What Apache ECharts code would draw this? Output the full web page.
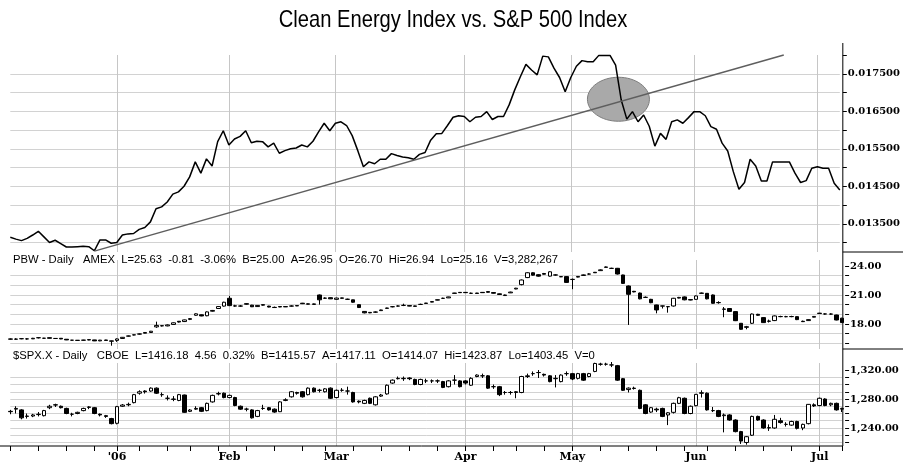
<!DOCTYPE html>
<html>
<head>
<meta charset="utf-8">
<title>Clean Energy Index vs. S&P 500 Index</title>
<script src="https://cdn.jsdelivr.net/npm/echarts@6.0.0/dist/echarts.min.js"></script>
<style>
  html, body { margin: 0; padding: 0; background: #fff; }
  #main { width: 903px; height: 463px; }
</style>
</head>
<body>
<div id="main"></div>
<script>
// trading days on the x axis, per month
var tradingDays = [
  ['2005-12', [5,6,7,8,9,12,13,14,15,16,19,20,21,22,23,27,28,29,30]],
  ['2006-01', [3,4,5,6,9,10,11,12,13,17,18,19,20,23,24,25,26,27,30,31]],
  ['2006-02', [1,2,3,6,7,8,9,10,13,14,15,16,17,21,22,23,24,27,28]],
  ['2006-03', [1,2,3,6,7,8,9,10,13,14,15,16,17,20,21,22,23,24,27,28,29,30,31]],
  ['2006-04', [3,4,5,6,7,10,11,12,13,17,18,19,20,21,24,25,26,27,28]],
  ['2006-05', [1,2,3,4,5,8,9,10,11,12,15,16,17,18,19,22,23,24,25,26,30,31]],
  ['2006-06', [1,2,5,6,7,8,9,12,13,14,15,16,19,20,21,22,23,26,27,28,29,30]],
  ['2006-07', [3,5,6,7,10]]
];
var monthLabels = {
  '2006-01': "'06", '2006-02': 'Feb', '2006-03': 'Mar', '2006-04': 'Apr',
  '2006-05': 'May', '2006-06': 'Jun', '2006-07': 'Jul'
};

// PBW / SPX ratio (top panel)
var ratio = [
  0.01314, 0.01309, 0.01305, 0.01311, 0.01320, 0.01330, 0.01315, 0.01300, 0.01306, 0.01297,
  0.01288, 0.01288, 0.01289, 0.01290, 0.01289, 0.01278, 0.01307, 0.01307, 0.01298, 0.01300,
  0.01320, 0.01323, 0.01324, 0.01335, 0.01340, 0.01355, 0.01390, 0.01395, 0.01408, 0.01429,
  0.01435, 0.01450, 0.01475, 0.01515, 0.01485, 0.01523, 0.01504, 0.01569, 0.01598, 0.01560,
  0.01576, 0.01583, 0.01598, 0.01566, 0.01570, 0.01569, 0.01555, 0.01565, 0.01538, 0.01545,
  0.01550, 0.01552, 0.01560, 0.01555, 0.01570, 0.01595, 0.01618, 0.01598, 0.01618, 0.01622,
  0.01612, 0.01585, 0.01545, 0.01502, 0.01515, 0.01510, 0.01522, 0.01522, 0.01537, 0.01532,
  0.01528, 0.01526, 0.01522, 0.01535, 0.01540, 0.01573, 0.01590, 0.01591, 0.01612, 0.01634,
  0.01638, 0.01636, 0.01622, 0.01634, 0.01636, 0.01649, 0.01628, 0.01636, 0.01636, 0.01667,
  0.01707, 0.01742, 0.01775, 0.01760, 0.01747, 0.01797, 0.01795, 0.01765, 0.01740, 0.01702,
  0.01740, 0.01770, 0.01785, 0.01782, 0.01782, 0.01799, 0.01799, 0.01799, 0.01773, 0.01680,
  0.01629, 0.01649, 0.01622, 0.01640, 0.01610, 0.01557, 0.01591, 0.01575, 0.01622, 0.01627,
  0.01618, 0.01633, 0.01649, 0.01649, 0.01638, 0.01609, 0.01602, 0.01565, 0.01544, 0.01489,
  0.01442, 0.01460, 0.01522, 0.01504, 0.01464, 0.01464, 0.01515, 0.01515, 0.01515, 0.01515,
  0.01485, 0.01460, 0.01465, 0.01498, 0.01502, 0.01498, 0.01498, 0.01458, 0.01440
];
// trend line drawn on the ratio: [day index, value]
var trendStart = [15, 0.01277];
var trendEnd = [138, 0.0180];
// circled break: [day index a, day index b, value]
var breakPoint = [108, 109, 0.01682];

// PBW daily [open, close, low, high]
var pbwCandles = [
  [16.45,16.43,16.38,16.50],[16.42,16.44,16.36,16.52],[16.47,16.48,16.42,16.53],[16.45,16.46,16.38,16.53],[16.46,16.52,16.44,16.56],
  [16.58,16.57,16.50,16.60],[16.53,16.52,16.48,16.56],[16.58,16.52,16.50,16.60],[16.50,16.50,16.46,16.53],[16.52,16.45,16.43,16.54],
  [16.42,16.35,16.33,16.44],[16.32,16.32,16.30,16.35],[16.31,16.30,16.28,16.33],[16.33,16.32,16.30,16.36],[16.38,16.34,16.32,16.40],
  [16.35,16.25,16.23,16.36],[16.25,16.33,16.22,16.35],[16.34,16.30,16.28,16.36],[16.25,16.22,15.75,16.28],[16.30,16.45,16.15,16.50],
  [16.50,16.62,16.48,16.65],[16.74,16.76,16.70,16.80],[16.86,16.88,16.82,16.90],[16.95,16.97,16.90,17.02],[17.04,17.12,17.02,17.15],
  [17.12,17.25,17.10,17.28],[17.70,17.85,17.60,18.24],[17.82,17.80,17.74,17.88],[17.80,17.90,17.76,17.95],[17.95,18.12,17.90,18.16],
  [18.28,18.20,18.15,18.30],[18.25,18.42,18.20,18.45],[18.55,18.48,18.40,18.60],[18.90,19.05,18.85,19.10],[18.95,18.83,18.80,18.98],
  [18.85,19.25,18.80,19.30],[19.32,19.40,19.28,19.45],[19.60,19.80,19.55,19.85],[19.85,20.25,19.80,20.30],[20.66,19.90,19.85,20.90],
  [19.85,19.88,19.78,19.98],[19.86,19.85,19.78,19.95],[20.10,20.05,20.00,20.14],[19.95,19.78,19.75,19.98],[19.80,19.92,19.78,19.95],
  [20.00,19.95,19.90,20.02],[19.85,19.75,19.72,19.88],[19.72,19.70,19.65,19.80],[19.80,19.76,19.74,19.83],[19.80,19.77,19.75,19.84],
  [19.85,19.86,19.80,19.93],[19.90,19.87,19.85,19.93],[20.15,20.10,20.06,20.18],[20.08,20.05,20.03,20.12],[20.02,20.08,20.00,20.12],
  [21.00,20.50,20.00,21.05],[20.66,20.68,20.60,20.75],[20.72,20.60,20.58,20.75],[20.55,20.68,20.52,20.72],[20.70,20.66,20.62,20.72],
  [20.55,20.56,20.50,20.62],[20.50,20.25,20.20,20.52],[20.00,19.70,19.65,20.02],[19.30,19.15,19.10,19.32],[19.20,19.15,19.12,19.22],
  [19.22,19.24,19.15,19.30],[19.38,19.45,19.35,19.48],[19.65,19.62,19.58,19.68],[19.78,19.79,19.72,19.85],[19.85,19.86,19.80,19.92],
  [19.92,19.93,19.85,20.10],[19.90,19.85,19.83,19.92],[19.82,19.87,19.80,19.90],[20.02,20.03,19.97,20.10],[20.16,20.13,20.10,20.18],
  [20.26,20.32,20.24,20.35],[20.50,20.47,20.45,20.52],[20.65,20.66,20.60,20.72],[20.70,20.80,20.68,20.82],[21.20,21.17,21.15,21.22],
  [21.27,21.24,21.22,21.30],[21.27,21.24,21.20,21.30],[21.17,21.18,21.10,21.25],[21.20,21.16,21.14,21.22],[21.27,21.24,21.22,21.30],
  [21.35,21.28,21.25,21.38],[21.25,21.18,21.15,21.28],[21.12,21.05,21.02,21.15],[20.94,21.00,20.92,21.04],[21.22,21.30,21.20,21.34],
  [21.62,21.70,21.60,21.74],[22.07,22.55,22.00,22.60],[22.80,23.30,22.75,23.35],[23.30,23.05,23.00,23.35],[23.10,22.95,22.90,23.15],
  [23.22,23.15,23.12,23.28],[22.95,23.40,22.90,23.45],[23.06,23.08,23.00,23.15],[22.90,22.88,22.85,22.95],[22.90,22.30,22.25,22.95],
  [22.60,22.62,21.60,22.70],[22.85,22.92,22.82,22.96],[23.02,23.08,23.00,23.12],[23.16,23.17,23.10,23.24],[23.35,23.30,23.28,23.38],
  [23.52,23.60,23.50,23.65],[23.90,23.86,23.84,23.95],[23.75,23.76,23.70,23.82],[23.76,23.17,23.12,23.80],[23.07,22.20,22.15,23.10],
  [21.93,21.07,17.90,21.98],[21.38,21.32,21.28,21.42],[21.20,20.60,20.55,21.25],[20.75,20.76,20.70,20.85],[20.55,20.20,20.15,20.60],
  [19.97,19.45,19.10,20.00],[19.85,19.87,19.60,19.90],[19.78,19.80,19.17,19.85],[19.86,20.66,19.80,20.70],[20.68,20.75,20.65,20.80],
  [20.80,20.50,20.45,20.85],[20.52,20.48,20.45,20.55],[20.55,20.90,20.50,20.95],[21.20,21.17,21.15,21.25],[21.17,20.60,20.55,21.20],
  [21.00,20.14,20.10,21.05],[20.22,20.20,20.10,20.35],[19.55,19.52,18.70,19.75],[19.60,19.30,19.25,19.65],[19.28,18.34,18.30,19.32],
  [18.07,17.45,17.40,18.10],[17.65,17.72,17.45,17.80],[18.07,19.03,18.00,19.08],[19.00,18.90,18.85,19.05],[18.66,18.14,18.10,18.70],
  [18.30,18.28,18.15,18.45],[18.35,18.83,18.30,18.88],[18.76,18.77,18.70,18.85],[18.76,18.75,18.70,18.84],[18.77,18.76,18.70,18.85],
  [18.76,18.45,18.40,18.80],[18.28,18.24,18.20,18.35],[18.35,18.45,18.32,18.48],[18.70,18.78,18.68,18.82],[19.12,19.08,19.05,19.15],
  [19.03,19.04,18.97,19.10],[19.03,19.02,18.96,19.10],[18.93,18.41,18.38,18.96],[18.60,18.14,18.10,18.64]
];

// $SPX.X daily [open, close, low, high]
var spxCandles = [
  [1263,1262.5,1259,1265],[1266,1267,1260,1270],[1265,1254,1252,1266],[1256,1256.5,1253,1260],[1256.5,1258,1255,1259.5],
  [1258.5,1259,1256,1262],[1257,1264,1256,1265],[1268,1270,1266,1272],[1272,1271.7,1269,1273.5],[1270,1268,1267,1271],
  [1267,1260,1259,1268],[1259,1259,1256,1261],[1260,1261.6,1259,1262.5],[1264,1267,1263,1268],[1269,1268.5,1266,1270],
  [1268,1260,1259,1269],[1259,1258,1256,1260],[1257,1256,1254,1258],[1253,1246,1245,1254],[1246.5,1269.5,1245,1270.5],
  [1270,1271.7,1269,1273],[1272,1272.6,1270,1275],[1275,1286,1274,1287],[1288,1290,1286,1292],[1291,1290,1287.5,1292],
  [1291,1295,1290,1296],[1295,1288,1287,1296],[1286,1286,1283,1289],[1281,1281,1278,1285],[1280,1279.5,1277,1284],
  [1278,1286,1277,1287],[1285.5,1261.6,1261,1286],[1263,1264.8,1262,1266],[1266,1267,1265,1270],[1268,1263,1262,1269],
  [1264,1274,1263,1275],[1276,1285,1275,1286],[1287,1287.5,1285,1290],[1288,1282,1281,1289],[1282,1285,1281,1286],
  [1282,1271,1270,1283],[1270,1266,1265,1271],[1266,1266,1263,1268],[1265,1254,1253,1266],[1256,1264,1255,1265],
  [1267,1267,1265,1272],[1268,1265,1264,1269],[1266,1262,1261,1267],[1262.5,1276,1262,1277],[1278,1279,1277,1281],
  [1283,1290,1282,1291],[1289,1288,1286,1290],[1290,1283,1282,1291],[1286,1295,1285,1296],[1295,1290,1289,1296],
  [1292,1292,1289,1294],[1290,1294,1289,1295],[1295,1281,1280,1296],[1282,1292,1281,1293],[1292,1292,1290,1295],
  [1291,1291,1286,1297],[1289,1276,1275,1290],[1277,1276,1274,1278],[1274,1278,1273,1279],[1281,1274,1273,1282],
  [1272,1283,1271,1284],[1284,1285.5,1283,1287],[1287,1299,1286,1300],[1302,1306,1301,1307],[1308,1308.5,1307,1311],
  [1308,1308.5,1305,1311],[1309,1308,1306,1310],[1307,1300,1299,1308],[1300,1307,1299,1308],[1305,1305,1302,1308],
  [1305,1305,1302,1307],[1305,1305,1302,1307],[1304,1296,1295,1305],[1297,1305,1296,1306],[1306,1306,1300,1313],
  [1305,1297,1296,1306],[1305,1302,1300,1306],[1299,1308.5,1298,1310],[1311,1313,1310,1314],[1312,1312,1309,1315],
  [1312,1295,1294,1313],[1297,1297,1294,1300],[1297,1286,1284,1298],[1289,1289,1286,1291],[1289,1289,1286,1291],
  [1290,1289,1281,1291],[1289,1311,1288,1312],[1311,1312,1309,1315],[1315,1315,1312,1318],[1316.5,1316.5,1309,1320],
  [1314,1313,1311,1315],[1312,1304,1303,1313],[1308,1308.5,1296,1313],[1304,1313,1303,1314],[1315,1315,1312,1318],
  [1315,1307.6,1306,1316],[1308.5,1315,1307,1316],[1315,1306,1305,1316],[1311,1315,1310,1316],[1318,1329,1317,1330],
  [1328,1328,1326,1330],[1328,1328,1326,1330],[1327,1327,1324,1331],[1326,1306,1305,1327],[1308,1292,1291,1309],
  [1293,1295,1289,1296],[1295,1294.5,1293,1297],[1292,1267,1266,1293],[1272,1260,1259,1273],[1262,1268,1261,1269],
  [1266,1265,1262,1268],[1267,1256,1255,1268],[1258,1261,1244,1262],[1261.6,1274,1260,1275],[1274,1281.8,1273,1283],
  [1281,1260,1259,1282],[1260,1270,1259,1271],[1270.8,1286.4,1270,1287],[1288.5,1288,1282,1292],[1288,1265,1264,1289],
  [1264,1264,1262,1269],[1264,1256,1255,1265],[1257,1258,1234,1260],[1258,1251,1250,1259],[1251,1235,1234,1252],
  [1235,1222,1218,1236],[1220,1228,1217,1229],[1230,1256,1229,1257],[1256,1251,1250,1257],[1251,1240,1239,1252],
  [1240.5,1240,1236,1245],[1240,1252,1239,1258],[1250,1247.5,1246,1254],[1245,1245,1242,1248],[1244,1249,1243,1250],
  [1249,1239.5,1238,1250],[1240,1245,1237,1246],[1246,1272.6,1245,1273],[1272,1270.5,1269,1274],[1271,1281,1270,1282],
  [1280,1271,1270,1281],[1272,1274,1270,1275],[1274,1265,1264,1275],[1266,1267,1262,1268]
];

// right axis ticks and labels
var ratioTicks = [0.013, 0.0135, 0.014, 0.0145, 0.015, 0.0155, 0.016, 0.0165, 0.017, 0.0175, 0.018];
var ratioLabels = [0.0135, 0.0145, 0.0155, 0.0165, 0.0175];
var pbwTicks = [16, 17, 18, 19, 20, 21, 22, 23, 24];
var pbwLabels = [18, 21, 24];
var spxTicks = [1220, 1230, 1240, 1250, 1260, 1270, 1280, 1290, 1300, 1310, 1320];
var spxLabels = [1240, 1280, 1320];

var chartTitle = 'Clean Energy Index vs. S&P 500 Index';
var pbwHeader = 'PBW - Daily   AMEX  L=25.63  -0.81  -3.06%  B=25.00  A=26.95  O=26.70  Hi=26.94  Lo=25.16  V=3,282,267';
var spxHeader = '$SPX.X - Daily   CBOE  L=1416.18  4.56  0.32%  B=1415.57  A=1417.11  O=1414.07  Hi=1423.87  Lo=1403.45  V=0';

var dates = [];
tradingDays.forEach(function (m) {
  m[1].forEach(function (d) {
    dates.push(m[0] + '-' + (d < 10 ? '0' + d : d));
  });
});

function isMonthStart(i) {
  return i > 0 && dates[i].slice(0, 7) !== dates[i - 1].slice(0, 7);
}
function isWeekStart(i) {
  if (i === 0) return true;
  var a = new Date(dates[i - 1] + 'T00:00:00Z'), b = new Date(dates[i] + 'T00:00:00Z');
  return b.getUTCDay() < a.getUTCDay() || (b - a) >= 7 * 864e5;
}
function withCommas(v) {
  var s = Math.round(v).toString();
  return s.replace(/\B(?=(\d{3})+(?!\d))/g, ',') + '.00';
}

var gridLine = '#d2d2d2';
var axisFont = { color: '#000', fontFamily: 'DejaVu Serif', fontWeight: 'bold', fontSize: 10 };
var headerFont = { fontFamily: 'Liberation Sans', fontSize: 11.25, fontWeight: 'normal', color: '#000' };

function xAxisFor(gridIndex, showLabels) {
  return {
    type: 'category', gridIndex: gridIndex, data: dates, boundaryGap: false,
    axisLine: { show: false },
    axisTick: { show: showLabels, length: 5, interval: isWeekStart, lineStyle: { color: '#000' } },
    axisLabel: {
      show: showLabels, interval: isMonthStart, margin: 6,
      color: '#000', fontFamily: 'DejaVu Serif', fontWeight: 'bold', fontSize: 11,
      formatter: function (v) { return monthLabels[v.slice(0, 7)] || ''; }
    },
    splitLine: { show: true, interval: isMonthStart, lineStyle: { color: '#c6c6c6', width: 1 } }
  };
}
function yAxisFor(gridIndex, min, max, ticks, labels, fmt) {
  return {
    type: 'value', gridIndex: gridIndex, position: 'right', offset: 3,
    min: min, max: max,
    axisLine: { show: false },
    axisTick: { show: true, length: 4, customValues: ticks, lineStyle: { color: '#000' } },
    axisLabel: Object.assign({ customValues: labels, formatter: fmt, margin: 5 }, axisFont),
    splitLine: { show: true, showMaxLine: false, lineStyle: { color: gridLine, width: 1 } }
  };
}

var candleStyle = {
  color: '#fff', color0: '#000',
  borderColor: '#000', borderColor0: '#000', borderWidth: 1
};

var myChart = echarts.init(document.getElementById('main'));
var option = {
  animation: false,
  backgroundColor: '#fff',
  title: [
    { text: pbwHeader, left: 8, top: 249, textStyle: headerFont },
    { text: spxHeader, left: 8, top: 345, textStyle: headerFont }
  ],
  grid: [
    { left: 10.3, right: 60.9, top: 55, height: 197, containLabel: false },
    { left: 10.3, right: 60.9, top: 260, height: 89, containLabel: false },
    { left: 10.3, right: 60.9, top: 363, height: 83, containLabel: false }
  ],
  xAxis: [xAxisFor(0, false), xAxisFor(1, false), xAxisFor(2, true)],
  yAxis: [
    yAxisFor(0, 0.012747, 0.018, ratioTicks, ratioLabels, function (v) { return v.toFixed(6); }),
    yAxisFor(1, 15.41, 24.62, pbwTicks, pbwLabels, function (v) { return v.toFixed(2); }),
    yAxisFor(2, 1215.17, 1329.66, spxTicks, spxLabels, withCommas)
  ],
  series: [
    {
      type: 'line', xAxisIndex: 0, yAxisIndex: 0, data: ratio,
      showSymbol: false, clip: false, silent: true, z: 3,
      lineStyle: { color: '#000', width: 1.5 },
      markLine: {
        silent: true, symbol: ['none', 'none'], label: { show: false },
        lineStyle: { color: '#5e5e5e', width: 1.5, type: 'solid' },
        data: [[
          { coord: [dates[trendStart[0]], trendStart[1]] },
          { coord: [dates[trendEnd[0]], trendEnd[1]] }
        ]]
      }
    },
    {
      type: 'candlestick', xAxisIndex: 1, yAxisIndex: 1, data: pbwCandles,
      barWidth: 4, clip: false, silent: true, itemStyle: candleStyle
    },
    {
      type: 'candlestick', xAxisIndex: 2, yAxisIndex: 2, data: spxCandles,
      barWidth: 4, clip: false, silent: true, itemStyle: candleStyle
    }
  ]
};
myChart.setOption(option);

// condensed title, right axis line, panel separators, bottom axis line, and the circled break
var pa = myChart.convertToPixel({ gridIndex: 0 }, [dates[breakPoint[0]], breakPoint[2]]);
var pb = myChart.convertToPixel({ gridIndex: 0 }, [dates[breakPoint[1]], breakPoint[2]]);
var axisX = myChart.convertToPixel({ gridIndex: 0 }, [dates[dates.length - 1], 0.018])[0] + 3;
var lineStyle = { stroke: '#000', lineWidth: 1 };
myChart.setOption({
  graphic: [
    { type: 'text', x: 453, y: 8, scaleX: 0.84, silent: true,
      style: { text: chartTitle, fontFamily: 'Liberation Sans', fontSize: 24, fill: '#000',
               align: 'center', verticalAlign: 'top' } },
    { type: 'line', z: 10, silent: true, shape: { x1: axisX, y1: 43, x2: axisX, y2: 446 }, style: lineStyle },
    { type: 'line', z: 10, silent: true, shape: { x1: axisX, y1: 252, x2: 903, y2: 252 }, style: lineStyle },
    { type: 'line', z: 10, silent: true, shape: { x1: axisX, y1: 349, x2: 903, y2: 349 }, style: lineStyle },
    { type: 'line', z: 10, silent: true, shape: { x1: 0, y1: 446, x2: axisX, y2: 446 }, style: lineStyle },
    { type: 'ellipse', z: 1, silent: true,
      shape: { cx: (pa[0] + pb[0]) / 2, cy: pa[1], rx: 31, ry: 22 },
      style: { fill: '#a9a9a9', stroke: '#7d7d7d', lineWidth: 1 } }
  ]
});
</script>
</body>
</html>
